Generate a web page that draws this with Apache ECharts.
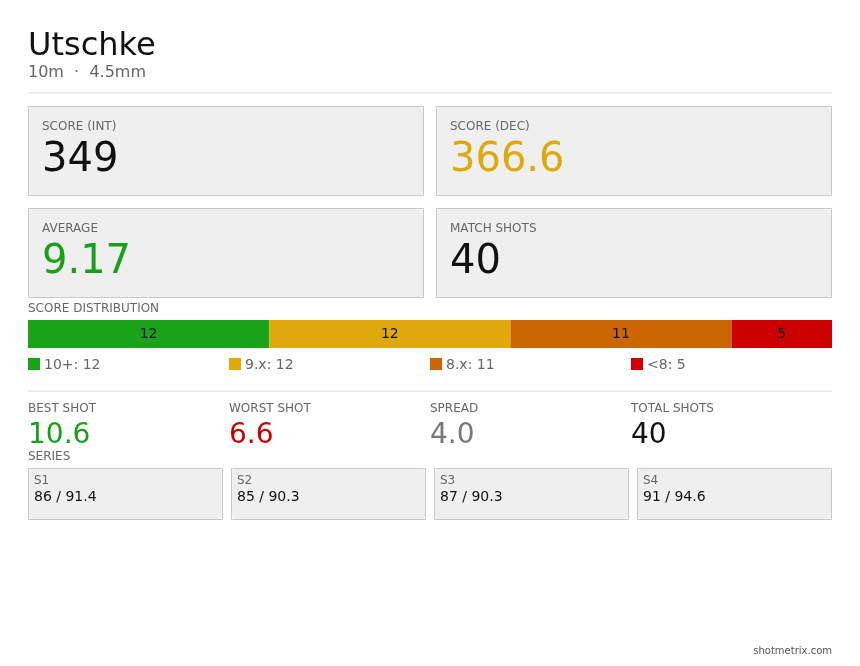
<!DOCTYPE html>
<html>
<head>
<meta charset="utf-8">
<script src="https://cdn.jsdelivr.net/npm/echarts@6/dist/echarts.min.js"></script>
<style>
html,body{margin:0;padding:0;background:#fff;}
#c{width:860px;height:666px;}
</style>
</head>
<body>
<div id="c"></div>
<script>
const title = 'Utschke';
const subtitle = '10m  ·  4.5mm';
const kpiLabels = ['SCORE (INT)', 'SCORE (DEC)', 'AVERAGE', 'MATCH SHOTS'];
const kpiValues = ['349', '366.6', '9.17', '40'];
const kpiColors = ['#111111', '#dfa90e', '#18a018', '#111111'];
const categories = ['10+', '9.x', '8.x', '<8'];
const counts = [12, 12, 11, 5];
const barColors = ['#18a318', '#dfa90e', '#cc6600', '#cc0000'];
const statLabels = ['BEST SHOT', 'WORST SHOT', 'SPREAD', 'TOTAL SHOTS'];
const statValues = ['10.6', '6.6', '4.0', '40'];
const statColors = ['#18a018', '#c80000', '#777777', '#111111'];
const seriesNames = ['S1', 'S2', 'S3', 'S4'];
const seriesInt = [86, 85, 87, 91];
const seriesDec = ['91.4', '90.3', '90.3', '94.6'];
const footer = 'shotmetrix.com';

const FONT = '"DejaVu Sans", sans-serif';
const L = 28, R = 832, W = R - L;
const g = [];
function txt(x, y, s, size, color, align) {
  g.push({type: 'text', silent: true, style: {x: x, y: y + size * 0.09, text: s, font: size + 'px ' + FONT, fill: color, align: align || 'left', verticalAlign: 'middle'}});
}
function card(x, y, w, h) {
  g.push({type: 'rect', silent: true, shape: {x: x, y: y, width: w, height: h, r: 7}, style: {fill: '#efefef'}});
  g.push({type: 'rect', silent: true, shape: {x: x + 0.5, y: y + 0.5, width: w - 1, height: h - 1}, style: {fill: 'none', stroke: '#c8c8c8', lineWidth: 1}});
}
function hline(y) {
  g.push({type: 'rect', silent: true, shape: {x: L, y: y, width: W, height: 2}, style: {fill: '#ececec'}});
}

txt(L, 44, title, 32, '#111111');
txt(L, 71.5, subtitle, 16, '#666666');
hline(92);

const cw = 396, ch = 90;
for (let i = 0; i < 4; i++) {
  const col = i % 2, row = Math.floor(i / 2);
  const x = L + col * (cw + 12), y = 106 + row * 102;
  card(x, y, cw, ch);
  txt(x + 14, y + 20, kpiLabels[i], 12, '#666666');
  txt(x + 14, y + 51.5, kpiValues[i], 40, kpiColors[i]);
}

txt(L, 308, 'SCORE DISTRIBUTION', 12, '#666666');

for (let i = 0; i < categories.length; i++) {
  const x = L + i * (W / 4);
  g.push({type: 'rect', silent: true, shape: {x: x, y: 358, width: 12, height: 12}, style: {fill: barColors[i]}});
  txt(x + 16, 364.5, categories[i] + ': ' + counts[i], 14, '#666666');
}

hline(390);

for (let i = 0; i < 4; i++) {
  const x = L + i * (W / 4);
  txt(x, 407.5, statLabels[i], 12, '#666666');
  txt(x, 433.5, statValues[i], 28, statColors[i]);
}

txt(L, 456, 'SERIES', 12, '#666666');
const sw = 195, sg = 8;
for (let i = 0; i < 4; i++) {
  const x = L + i * (sw + sg);
  card(x, 468, sw, 52);
  txt(x + 6, 479.5, seriesNames[i], 12, '#666666');
  txt(x + 6, 496, seriesInt[i] + ' / ' + seriesDec[i], 14, '#111111');
}

txt(R, 650.5, footer, 10, '#555555', 'right');

const total = counts.reduce((a, b) => a + b, 0);
const chart = echarts.init(document.getElementById('c'), null, {renderer: 'canvas'});
chart.setOption({
  animation: false,
  backgroundColor: '#ffffff',
  textStyle: {fontFamily: FONT},
  grid: {left: L, right: 860 - R, top: 320, height: 28, containLabel: false},
  xAxis: {type: 'value', min: 0, max: total, show: false},
  yAxis: {type: 'category', data: ['dist'], show: false},
  series: categories.map((c, i) => ({
    type: 'bar', name: c, stack: 'total', barWidth: 28,
    data: [counts[i]],
    itemStyle: {color: barColors[i]},
    label: {show: true, position: 'inside', color: '#111111', fontSize: 14, fontFamily: FONT, formatter: '{c}'}
  })),
  graphic: g
});
</script>
</body>
</html>
